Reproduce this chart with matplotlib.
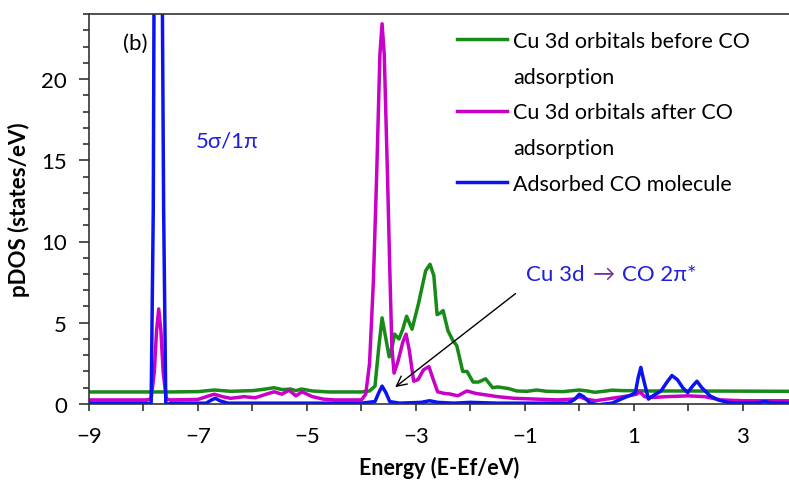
import numpy as np
import matplotlib
matplotlib.use("Agg")
import matplotlib.pyplot as plt
from matplotlib.ticker import FixedLocator
from matplotlib.lines import Line2D

plt.rcParams['font.family'] = ['Lato', 'DejaVu Sans']

# Cu 3d before CO adsorption (green)
x_before = [-9.0, -7.5, -7.0, -6.7, -6.4, -6.0, -5.8, -5.6, -5.45, -5.3, -5.2, -5.1, -4.9, -4.6,
            -4.0, -3.85, -3.75, -3.68, -3.62, -3.56, -3.49, -3.43, -3.39, -3.31, -3.24, -3.17,
            -3.07, -2.95, -2.82, -2.74, -2.67, -2.61, -2.55, -2.50, -2.41, -2.32, -2.25, -2.18,
            -2.14, -2.06, -1.95, -1.85, -1.72, -1.59, -1.5, -1.3, -1.15, -0.96, -0.78, -0.6,
            -0.3, 0.0, 0.15, 0.28, 0.45, 0.6, 0.8, 0.95, 1.2, 2.0, 3.85]
y_before = [0.74, 0.74, 0.76, 0.86, 0.78, 0.82, 0.9, 1.0, 0.88, 0.92, 0.82, 0.92, 0.8, 0.74,
            0.74, 0.8, 1.1, 3.5, 5.3, 4.2, 2.9, 3.6, 4.3, 4.0, 4.6, 5.4,
            4.6, 6.2, 8.2, 8.6, 7.9, 5.5, 5.6, 5.75, 4.5, 3.9, 3.6, 2.6,
            2.0, 2.0, 1.35, 1.35, 1.55, 1.0, 1.05, 0.95, 0.8, 0.78, 0.86, 0.78,
            0.76, 0.86, 0.8, 0.72, 0.78, 0.85, 0.82, 0.82, 0.8, 0.8, 0.78]

# Cu 3d after CO adsorption (magenta)
x_after = [-9.0, -7.95, -7.86, -7.80, -7.76, -7.72, -7.68, -7.64, -7.58, -7.5, -7.0, -6.8,
           -6.7, -6.55, -6.4, -6.15, -5.95, -5.75, -5.6, -5.46, -5.33, -5.2, -5.09, -4.9,
           -4.7, -4.5, -4.0, -3.92, -3.85, -3.78, -3.72, -3.66, -3.62, -3.58, -3.52, -3.48,
           -3.44, -3.40, -3.33, -3.24, -3.18, -3.12, -3.04, -2.96, -2.86, -2.76, -2.68, -2.6,
           -2.48, -2.38, -2.23, -2.12, -2.06, -1.9, -1.7, -1.5, -1.2, -0.8, -0.4, -0.1,
           0.0, 0.12, 0.3, 0.6, 0.9, 1.05, 1.11, 1.2, 1.35, 1.6, 2.0, 2.3,
           2.6, 3.0, 3.85]
y_after = [0.25, 0.25, 0.3, 2.0, 4.5, 5.85, 4.5, 2.0, 0.3, 0.25, 0.28, 0.5,
           0.6, 0.45, 0.35, 0.45, 0.38, 0.6, 0.75, 0.6, 0.85, 0.5, 0.75, 0.45,
           0.3, 0.25, 0.25, 0.6, 2.5, 7.5, 14.0, 21.5, 23.4, 21.5, 14.0, 8.5,
           3.5, 1.9, 2.6, 3.8, 4.3, 3.3, 1.4, 1.5, 2.1, 2.3, 1.5, 0.75,
           0.65, 0.62, 0.5, 0.7, 0.8, 0.65, 0.55, 0.45, 0.35, 0.3, 0.25, 0.3,
           0.45, 0.3, 0.2, 0.35, 0.5, 0.6, 0.75, 0.45, 0.4, 0.45, 0.5, 0.45,
           0.25, 0.2, 0.2]

# adsorbed CO molecule (blue)
x_co = [-9.0, -7.92, -7.86, -7.82, -7.78, -7.70, -7.63, -7.59, -7.54, -7.5, -6.85, -6.75,
        -6.68, -6.6, -6.45, -4.0, -3.75, -3.68, -3.62, -3.55, -3.48, -3.3, -2.9, -2.75,
        -2.6, -2.3, -2.0, -1.5, -0.2, -0.08, 0.0, 0.08, 0.2, 0.35, 0.6, 0.8,
        0.95, 1.03, 1.08, 1.13, 1.18, 1.27, 1.35, 1.5, 1.6, 1.7, 1.8, 1.9,
        1.99, 2.08, 2.16, 2.25, 2.4, 2.55, 2.75, 3.0, 3.3, 3.4, 3.5, 3.85]
y_co = [0.05, 0.05, -0.1, 12.0, 50.0, 50.0, 12.0, -0.1, 0.0, 0.05, 0.05, 0.25,
        0.35, 0.2, 0.05, 0.05, 0.15, 0.7, 1.1, 0.7, 0.15, 0.05, 0.1, 0.2,
        0.1, 0.05, 0.1, 0.05, 0.05, 0.3, 0.6, 0.45, 0.05, -0.05, 0.05, 0.35,
        0.55, 0.7, 1.6, 2.25, 1.5, 0.3, 0.5, 0.8, 1.3, 1.75, 1.5, 1.0,
        0.7, 1.1, 1.4, 1.0, 0.5, 0.25, 0.08, 0.05, 0.08, 0.15, 0.08, 0.05]

labels = ['Cu 3d orbitals before CO', 'adsorption',
          'Cu 3d orbitals after CO', 'adsorption',
          'Adsorbed CO molecule']

c_green = '#178a17'
c_mag = '#c800c8'
c_blue = '#0a14f0'
c_text = '#1f1fdc'
lw = 2.5

fig = plt.figure(figsize=(7.89, 4.85), dpi=100)
ax = fig.add_axes([0.1128, 0.165, 0.8872, 0.804])

ax.plot(x_before, y_before, color=c_green, lw=lw, solid_joinstyle='round')
ax.plot(x_after, y_after, color=c_mag, lw=lw, solid_joinstyle='round')
ax.plot(x_co, y_co, color=c_blue, lw=lw, solid_joinstyle='round')

ax.set_xlim(-9, 3.85)
ax.set_ylim(0, 24)

ax.spines['right'].set_visible(False)
for s in ['top', 'left', 'bottom']:
    ax.spines[s].set_color('#333333')
    ax.spines[s].set_linewidth(1.2)

ax.xaxis.set_major_locator(FixedLocator(np.arange(-9, 4, 2)))
ax.xaxis.set_minor_locator(FixedLocator(np.arange(-8, 4, 2)))
ax.yaxis.set_major_locator(FixedLocator(np.arange(0, 21, 5)))
ax.yaxis.set_minor_locator(FixedLocator(np.arange(0, 25, 1)))
ax.tick_params(axis='x', which='both', direction='out', length=5, width=1.2, pad=11,
               labelsize=16, color='#333333')
ax.tick_params(axis='y', which='major', direction='out', length=7, width=1.2, pad=9,
               labelsize=16, color='#333333')
ax.tick_params(axis='y', which='minor', direction='out', length=4, width=1.2, color='#333333')
ax.tick_params(top=False, right=False, which='both')

ax.set_xlabel('Energy (E-Ef/eV)', fontsize=15.5, fontweight='bold', labelpad=7)
ax.set_ylabel('pDOS (states/eV)', fontsize=16, fontweight='bold', labelpad=8)

handles = [Line2D([], [], color=c_green, lw=lw),
           Line2D([], [], color='none'),
           Line2D([], [], color=c_mag, lw=lw),
           Line2D([], [], color='none'),
           Line2D([], [], color=c_blue, lw=lw)]
ax.legend(handles, labels, loc='upper left', bbox_to_anchor=(0.514, 0.979), frameon=False,
          borderaxespad=0, fontsize=15.5, handlelength=2.3, handletextpad=0.28,
          labelspacing=0.73)

ax.text(-8.16, 22.2, '(b)', fontsize=16, ha='center', va='center')
ax.text(-6.47, 16.2, '5σ/1π', fontsize=16, color=c_text, ha='center', va='center')

t1 = ax.text(-0.98, 8.0, 'Cu 3d', fontsize=16, color=c_text, ha='left', va='center')
t2 = ax.annotate('→', xy=(1, 0), xycoords=t1, xytext=(6, 0), textcoords='offset points',
                 fontsize=16, color='#7030a0', ha='left', va='bottom')
ax.annotate('CO 2π*', xy=(1, 0), xycoords=t2, xytext=(5, 0), textcoords='offset points',
            fontsize=16, color=c_text, ha='left', va='bottom')

ax.annotate('', xy=(-3.42, 0.93), xytext=(-1.13, 6.9),
            arrowprops=dict(arrowstyle='->', color='black', lw=1.0, mutation_scale=18))

fig.savefig('out.png', dpi=100)
